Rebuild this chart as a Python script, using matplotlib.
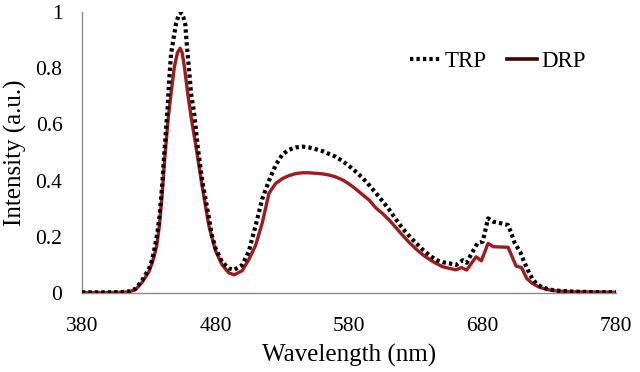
import matplotlib
matplotlib.use("Agg")
import matplotlib.pyplot as plt
from matplotlib.lines import Line2D

plt.rcParams['font.family'] = ['Liberation Serif', 'DejaVu Serif']

trp_wl = [380, 390, 400, 410, 415, 420, 425, 430, 432, 434, 436, 438, 440, 442, 444, 445.5, 446.7, 448.4,
          450.5, 452.5, 454.2, 456, 457.4, 458.4, 460, 461.7, 464.2, 466.7, 470, 475, 477, 480,
          485, 490, 494, 500, 505, 510, 515, 520, 525, 530, 535, 540, 545, 550, 555, 560,
          565, 570, 575, 580, 585, 590, 595, 600, 605, 610, 615, 620, 625, 630, 635, 640,
          645, 650, 655, 660, 665, 668, 671, 676, 680, 684, 688, 694, 699, 701.5, 704, 708,
          711, 714, 717, 720, 724, 730, 735, 745, 760, 780]
trp_val = [0.003, 0.003, 0.003, 0.004, 0.006, 0.015, 0.045, 0.085, 0.11, 0.15, 0.20, 0.27, 0.38, 0.52, 0.65, 0.77, 0.85, 0.90,
           0.96, 0.99, 0.997, 0.98, 0.954, 0.89, 0.805, 0.71, 0.633, 0.52, 0.40, 0.27, 0.21, 0.16,
           0.11, 0.088, 0.083, 0.10, 0.15, 0.24, 0.335, 0.40, 0.455, 0.493, 0.51, 0.518, 0.521, 0.518, 0.512, 0.505,
           0.495, 0.485, 0.47, 0.452, 0.432, 0.41, 0.384, 0.356, 0.327, 0.297, 0.263, 0.23, 0.203, 0.178, 0.155, 0.135,
           0.118, 0.11, 0.106, 0.10, 0.117, 0.108, 0.135, 0.177, 0.183, 0.266, 0.254, 0.248, 0.242, 0.212, 0.177, 0.147,
           0.111, 0.08, 0.052, 0.035, 0.022, 0.013, 0.009, 0.006, 0.004, 0.003]

drp_wl = [380, 390, 400, 410, 415, 420, 425, 430, 432, 434, 436, 438, 440, 442, 444.7, 446.7, 449.2, 451.5,
          453.5, 455, 456.7, 459.2, 461.7, 465.4, 470, 475, 480, 485, 490, 494, 500, 505,
          510, 515, 520, 525, 530, 535, 540, 545, 550, 555, 560, 565, 570, 575, 580, 585,
          590, 595, 600, 605, 610, 615, 620, 625, 630, 635, 640, 645, 650, 655, 660, 664,
          668, 671.5, 675, 679, 684, 688, 699, 701.5, 705, 709, 713, 717, 722, 728, 735, 745, 780]
drp_val = [0.002, 0.002, 0.002, 0.003, 0.005, 0.012, 0.038, 0.075, 0.10, 0.13, 0.17, 0.24, 0.35, 0.48, 0.627, 0.71, 0.805, 0.855,
           0.871, 0.855, 0.805, 0.71, 0.627, 0.52, 0.38, 0.24, 0.15, 0.10, 0.072, 0.065, 0.08, 0.12,
           0.17, 0.25, 0.355, 0.39, 0.407, 0.418, 0.425, 0.428, 0.428, 0.426, 0.424, 0.42, 0.413, 0.403, 0.388, 0.37,
           0.35, 0.331, 0.303, 0.283, 0.26, 0.233, 0.206, 0.18, 0.157, 0.137, 0.12, 0.106, 0.094, 0.088, 0.083, 0.091,
           0.082, 0.106, 0.129, 0.115, 0.177, 0.165, 0.163, 0.135, 0.096, 0.091, 0.052, 0.035, 0.022, 0.013, 0.008, 0.005, 0.003]

xticks = [380, 480, 580, 680, 780]
yticks = [0, 0.2, 0.4, 0.6, 0.8, 1.0]
yticklabels = ['0', '0.2', '0.4', '0.6', '0.8', '1']

DOT = (0, (0.8, 0.75))

fig = plt.figure(figsize=(6.4, 3.72), dpi=100)
ax = fig.add_axes([0.128, 0.212, 0.835, 0.756])

ax.plot(drp_wl, drp_val, color='#A3191C', lw=2.4, solid_joinstyle='round', zorder=2)
ax.plot(trp_wl, trp_val, color='black', lw=3.0, linestyle=DOT, dash_capstyle='butt', zorder=3)

ax.set_xlim(380, 780)
ax.set_ylim(0, 1.0)
ax.set_xticks(xticks)
ax.set_xticklabels([str(t) for t in xticks])
ax.set_yticks(yticks)
ax.set_yticklabels(yticklabels)
ax.tick_params(length=0, labelsize=15.5)
ax.tick_params(axis='x', pad=17)
ax.tick_params(axis='y', pad=14)
for s in ['top', 'right']:
    ax.spines[s].set_visible(False)
for s in ['left', 'bottom']:
    ax.spines[s].set_color('#8a8a8a')
    ax.spines[s].set_linewidth(1.0)

ax.set_xlabel('Wavelength (nm)', fontsize=18, labelpad=6)
ax.set_ylabel('Intensity (a.u.)', fontsize=18, labelpad=6)

handles = [Line2D([0], [0], color='black', lw=3, linestyle=DOT),
           Line2D([0], [0], color='#3D0505', lw=2.6)]
ax.legend(handles, ['TRP', 'DRP'], ncol=2, frameon=False, fontsize=16.5,
          loc='center left', bbox_to_anchor=(0.597, 0.825), handlelength=1.3,
          handletextpad=0.2, columnspacing=0.9, borderaxespad=0)

fig.savefig('out.png', dpi=100)
